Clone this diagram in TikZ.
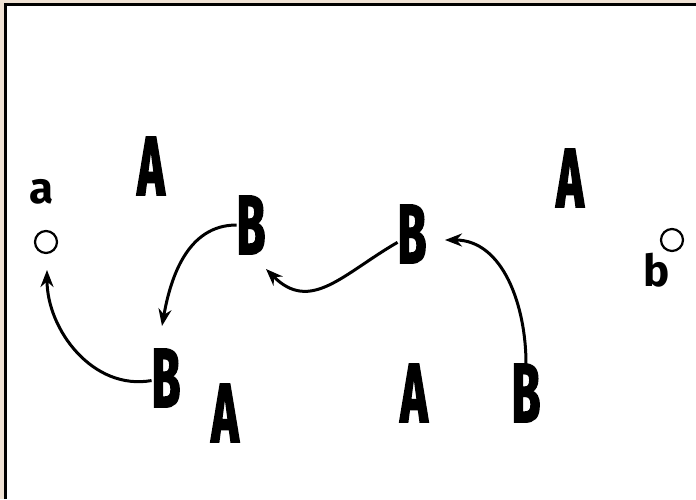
\documentclass[tikz,border=0pt]{standalone}
\usepackage{fontspec}
\setmainfont{Fira Sans}
\newfontfamily\tallfont{Fira Sans}[FakeStretch=0.55,FakeBold=2]
\usetikzlibrary{arrows.meta}
\definecolor{paper}{RGB}{240,226,212}
\tikzset{
    letter/.style = {inner sep=0pt,font=\tallfont\bfseries\fontsize{84}{84}\selectfont},
    point/.style = {circle, draw=black, line width=2.2pt, minimum size=22pt, inner sep=0pt},
    plabel/.style = {inner sep=0pt,font=\bfseries\fontsize{44}{44}\selectfont},
    move/.style = {-{Stealth[length=17pt,width=13pt]},line width=3pt},
}
\begin{document}
\begin{tikzpicture}[x=1pt,y=1pt]
\useasboundingbox (0,0) rectangle (696,499);
% frame
\fill[paper] (0,0) rectangle (696,499);
\fill[white] (5.5,0) rectangle (696,494.5);
\draw[line width=3.5pt] (5.5,0) -- (5.5,494.5) -- (696,494.5);
%
\node[point] at (46,257) (pa) {};
\node[point] at (672,259) (pb) {};
\node[plabel] at (42,307) (la) {a};
\node[plabel] at (657,229) (lb) {b};
%
\node[letter] at (151,333) (a1) {A};
\node[letter] at (570,321) (a2) {A};
\node[letter] at (225,86) (a3) {A};
\node[letter] at (414,106) (a4) {A};
\node[letter] at (251,274) (b1) {B};
\node[letter] at (412,265) (b2) {B};
\node[letter] at (166,121) (b3) {B};
\node[letter] at (526,106) (b4) {B};
%
\draw[move] ([shift={(-1,41)}]b4) to[out=90,in=0] ([shift={(33,-6)}]b2);
\draw[move] ([shift={(-22,-34)}]b2) to[out=210,in=-45,looseness=1.2] ([shift={(15,-44)}]b1);
\draw[move] ([shift={(-25,-7)}]b1) to[out=180,in=80] ([shift={(-4,52)}]b3);
\draw[move] ([shift={(-28,15)}]b3) to[out=190,in=-90] ([shift={(1,-28)}]pa);
\end{tikzpicture}
\end{document}
